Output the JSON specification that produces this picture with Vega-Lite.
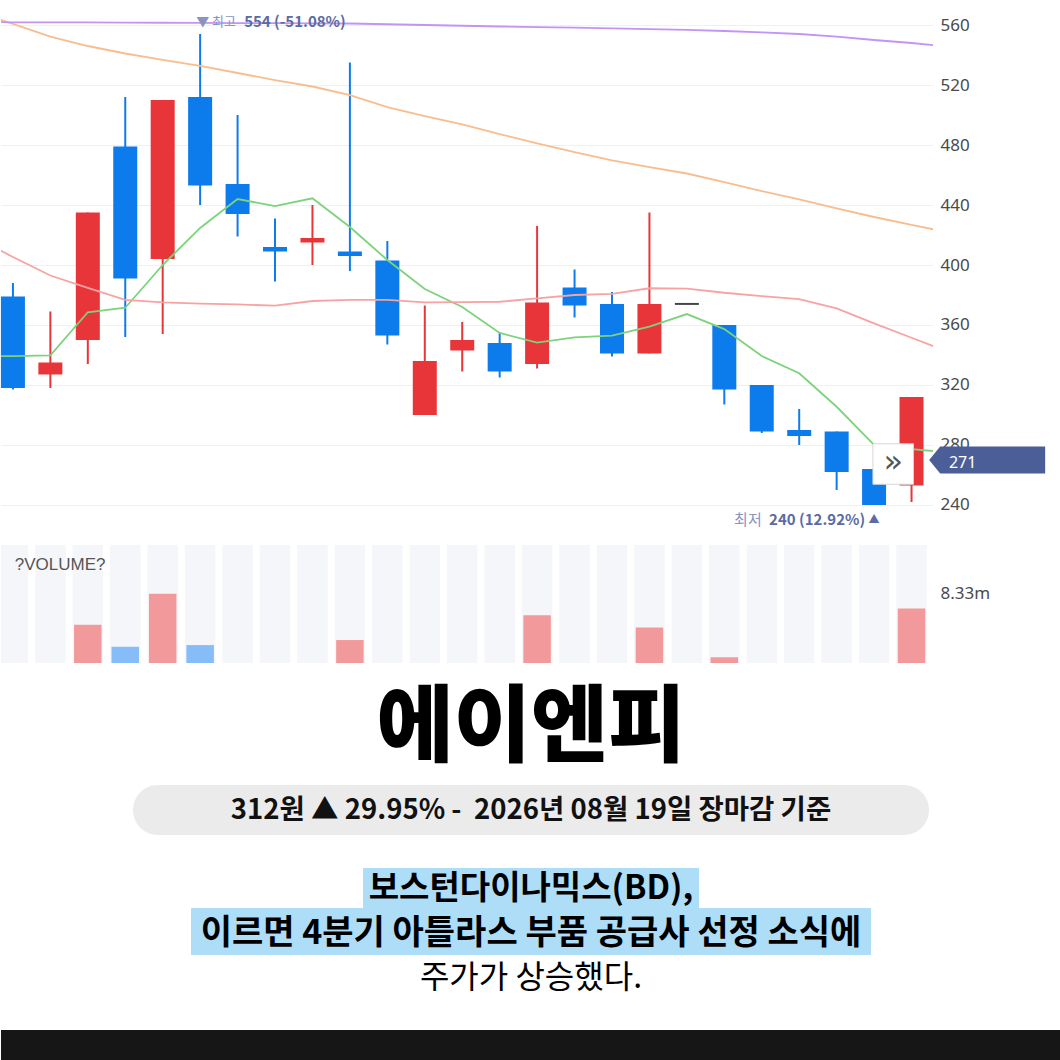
{
  "$schema": "https://vega.github.io/schema/vega-lite/v6.json",
  "background": "white",
  "padding": 0,
  "spacing": 0,
  "bounds": "flush",
  "config": {"view": {"stroke": null}, "font": "Noto Sans CJK KR"},
  "datasets": {
    "candles": [
      {"i": 0, "o": 379, "c": 318, "h": 388, "l": 317, "d": "down"},
      {"i": 1, "o": 327, "c": 335, "h": 369, "l": 318, "d": "up"},
      {"i": 2, "o": 350, "c": 435, "h": 435, "l": 334, "d": "up"},
      {"i": 3, "o": 479, "c": 391, "h": 512, "l": 352, "d": "down"},
      {"i": 4, "o": 404, "c": 510, "h": 510, "l": 354, "d": "up"},
      {"i": 5, "o": 512, "c": 453, "h": 554, "l": 440, "d": "down"},
      {"i": 6, "o": 454, "c": 434, "h": 500, "l": 419, "d": "down"},
      {"i": 7, "o": 412, "c": 409, "h": 431, "l": 389, "d": "down"},
      {"i": 8, "o": 415, "c": 418, "h": 440, "l": 400, "d": "up"},
      {"i": 9, "o": 409, "c": 406, "h": 535, "l": 396, "d": "down"},
      {"i": 10, "o": 403, "c": 353, "h": 416, "l": 347, "d": "down"},
      {"i": 11, "o": 300, "c": 336, "h": 373, "l": 300, "d": "up"},
      {"i": 12, "o": 343, "c": 350, "h": 362, "l": 329, "d": "up"},
      {"i": 13, "o": 348, "c": 329, "h": 355, "l": 325, "d": "down"},
      {"i": 14, "o": 334, "c": 375, "h": 426, "l": 331, "d": "up"},
      {"i": 15, "o": 385, "c": 373, "h": 397, "l": 365, "d": "down"},
      {"i": 16, "o": 374, "c": 341, "h": 382, "l": 339, "d": "down"},
      {"i": 17, "o": 341, "c": 374, "h": 435, "l": 341, "d": "up"},
      {"i": 18, "o": 374.7, "c": 373.4, "h": 374, "l": 374, "d": "flat"},
      {"i": 19, "o": 360, "c": 317, "h": 360, "l": 307, "d": "down"},
      {"i": 20, "o": 320, "c": 289, "h": 320, "l": 288, "d": "down"},
      {"i": 21, "o": 290, "c": 286, "h": 304, "l": 280, "d": "down"},
      {"i": 22, "o": 289, "c": 262, "h": 289, "l": 250, "d": "down"},
      {"i": 23, "o": 264, "c": 240, "h": 264, "l": 240, "d": "down"},
      {"i": 24, "o": 253, "c": 312, "h": 312, "l": 242, "d": "up"}
    ],
    "vol": [
      {"i": 2, "v": 4.6, "d": "up"},
      {"i": 3, "v": 1.95, "d": "down"},
      {"i": 4, "v": 8.33, "d": "up"},
      {"i": 5, "v": 2.15, "d": "down"},
      {"i": 9, "v": 2.76, "d": "up"},
      {"i": 14, "v": 5.73, "d": "up"},
      {"i": 17, "v": 4.27, "d": "up"},
      {"i": 19, "v": 0.69, "d": "up"},
      {"i": 24, "v": 6.54, "d": "up"}
    ],
    "ma": [
      {"i": -1, "s": "ma5", "v": 339}, {"i": 0, "s": "ma5", "v": 339.3}, {"i": 1, "s": "ma5", "v": 339.8}, {"i": 2, "s": "ma5", "v": 368.5}, {"i": 3, "s": "ma5", "v": 371.5}, {"i": 4, "s": "ma5", "v": 400}, {"i": 5, "s": "ma5", "v": 424.7}, {"i": 6, "s": "ma5", "v": 444}, {"i": 7, "s": "ma5", "v": 439.3}, {"i": 8, "s": "ma5", "v": 444.5}, {"i": 9, "s": "ma5", "v": 425.3}, {"i": 10, "s": "ma5", "v": 403.3}, {"i": 11, "s": "ma5", "v": 384}, {"i": 12, "s": "ma5", "v": 372}, {"i": 13, "s": "ma5", "v": 354.7}, {"i": 14, "s": "ma5", "v": 348.3}, {"i": 15, "s": "ma5", "v": 351.8}, {"i": 16, "s": "ma5", "v": 352.9}, {"i": 17, "s": "ma5", "v": 358.9}, {"i": 18, "s": "ma5", "v": 367.3}, {"i": 19, "s": "ma5", "v": 357.3}, {"i": 20, "s": "ma5", "v": 339.3}, {"i": 21, "s": "ma5", "v": 327.8}, {"i": 22, "s": "ma5", "v": 305.5}, {"i": 23, "s": "ma5", "v": 280}, {"i": 24, "s": "ma5", "v": 277.3}, {"i": 25, "s": "ma5", "v": 275},
      {"i": -1, "s": "ma20", "v": 418.3}, {"i": 0, "s": "ma20", "v": 405.3}, {"i": 1, "s": "ma20", "v": 393}, {"i": 2, "s": "ma20", "v": 384.8}, {"i": 3, "s": "ma20", "v": 376.7}, {"i": 4, "s": "ma20", "v": 375.1}, {"i": 5, "s": "ma20", "v": 374.3}, {"i": 6, "s": "ma20", "v": 373.7}, {"i": 7, "s": "ma20", "v": 372.9}, {"i": 8, "s": "ma20", "v": 376}, {"i": 9, "s": "ma20", "v": 376.7}, {"i": 10, "s": "ma20", "v": 376.7}, {"i": 11, "s": "ma20", "v": 375.1}, {"i": 12, "s": "ma20", "v": 375.3}, {"i": 13, "s": "ma20", "v": 375.5}, {"i": 14, "s": "ma20", "v": 377.8}, {"i": 15, "s": "ma20", "v": 380}, {"i": 16, "s": "ma20", "v": 380.7}, {"i": 17, "s": "ma20", "v": 384.5}, {"i": 18, "s": "ma20", "v": 384.3}, {"i": 19, "s": "ma20", "v": 381.5}, {"i": 20, "s": "ma20", "v": 379.3}, {"i": 21, "s": "ma20", "v": 377.3}, {"i": 22, "s": "ma20", "v": 371.1}, {"i": 23, "s": "ma20", "v": 361.1}, {"i": 24, "s": "ma20", "v": 351.5}, {"i": 25, "s": "ma20", "v": 342},
      {"i": -1, "s": "ma60", "v": 569}, {"i": 0, "s": "ma60", "v": 560.7}, {"i": 1, "s": "ma60", "v": 552.3}, {"i": 2, "s": "ma60", "v": 546}, {"i": 3, "s": "ma60", "v": 541}, {"i": 4, "s": "ma60", "v": 536.7}, {"i": 5, "s": "ma60", "v": 532.7}, {"i": 6, "s": "ma60", "v": 528}, {"i": 7, "s": "ma60", "v": 523.3}, {"i": 8, "s": "ma60", "v": 519}, {"i": 9, "s": "ma60", "v": 513.3}, {"i": 10, "s": "ma60", "v": 505.3}, {"i": 11, "s": "ma60", "v": 499.3}, {"i": 12, "s": "ma60", "v": 493.7}, {"i": 13, "s": "ma60", "v": 487.3}, {"i": 14, "s": "ma60", "v": 481.1}, {"i": 15, "s": "ma60", "v": 475.3}, {"i": 16, "s": "ma60", "v": 469.7}, {"i": 17, "s": "ma60", "v": 465.3}, {"i": 18, "s": "ma60", "v": 461}, {"i": 19, "s": "ma60", "v": 455.3}, {"i": 20, "s": "ma60", "v": 449.3}, {"i": 21, "s": "ma60", "v": 443.7}, {"i": 22, "s": "ma60", "v": 437.7}, {"i": 23, "s": "ma60", "v": 432}, {"i": 24, "s": "ma60", "v": 426.7}, {"i": 25, "s": "ma60", "v": 421.7},
      {"i": -1, "s": "ma120", "v": 562}, {"i": 0, "s": "ma120", "v": 561.8}, {"i": 1, "s": "ma120", "v": 561.8}, {"i": 2, "s": "ma120", "v": 561.7}, {"i": 3, "s": "ma120", "v": 561.6}, {"i": 4, "s": "ma120", "v": 561.5}, {"i": 5, "s": "ma120", "v": 561.4}, {"i": 6, "s": "ma120", "v": 561.3}, {"i": 7, "s": "ma120", "v": 561.2}, {"i": 8, "s": "ma120", "v": 561.1}, {"i": 9, "s": "ma120", "v": 561}, {"i": 10, "s": "ma120", "v": 560.5}, {"i": 11, "s": "ma120", "v": 560}, {"i": 12, "s": "ma120", "v": 559.5}, {"i": 13, "s": "ma120", "v": 559}, {"i": 14, "s": "ma120", "v": 558.6}, {"i": 15, "s": "ma120", "v": 558.2}, {"i": 16, "s": "ma120", "v": 557.7}, {"i": 17, "s": "ma120", "v": 557.2}, {"i": 18, "s": "ma120", "v": 556.7}, {"i": 19, "s": "ma120", "v": 556}, {"i": 20, "s": "ma120", "v": 555.1}, {"i": 21, "s": "ma120", "v": 554}, {"i": 22, "s": "ma120", "v": 552.2}, {"i": 23, "s": "ma120", "v": 550}, {"i": 24, "s": "ma120", "v": 548}, {"i": 25, "s": "ma120", "v": 545.5}
    ]
  },
  "vconcat": [
    {
      "width": 932,
      "height": 530,
      "layer": [
        {
          "data": {"name": "candles"},
          "mark": {"type": "rule", "strokeWidth": 2},
          "encoding": {
            "x": {"field": "i", "type": "quantitative", "scale": {"domain": [-0.185, 24.44], "nice": false, "zero": false}, "axis": null},
            "y": {"field": "l", "type": "quantitative", "title": null,
              "scale": {"domain": [223.33, 576.67], "nice": false, "zero": false},
              "axis": {"orient": "right", "values": [240, 280, 320, 360, 400, 440, 480, 520, 560], "grid": true, "gridColor": "#EEF0F4", "gridWidth": 1, "domain": false, "ticks": false, "labelPadding": 7, "labelFont": "Noto Sans", "labelFontSize": 17, "labelColor": "#4A4A4A"}},
            "y2": {"field": "h"},
            "color": {"field": "d", "type": "nominal", "legend": null, "scale": {"domain": ["up", "down", "flat"], "range": ["#E8353A", "#0C7BEB", "#444444"]}}
          }
        },
        {
          "data": {"name": "candles"},
          "mark": {"type": "bar", "width": 24},
          "encoding": {
            "x": {"field": "i", "type": "quantitative"},
            "y": {"field": "o", "type": "quantitative", "title": null},
            "y2": {"field": "c"},
            "color": {"field": "d", "type": "nominal", "legend": null}
          }
        },
        {
          "data": {"name": "ma"},
          "mark": {"type": "line", "strokeWidth": 1.8, "clip": true},
          "encoding": {
            "x": {"field": "i", "type": "quantitative"},
            "y": {"field": "v", "type": "quantitative", "title": null},
            "stroke": {"field": "s", "type": "nominal", "legend": null, "scale": {"domain": ["ma5", "ma20", "ma60", "ma120"], "range": ["#7CD37C", "#F8A3A3", "#F8BD8E", "#C493F7"]}}
          }
        },
        {
          "data": {"values": [{"t": "▼ 최고"}]},
          "mark": {"type": "text", "align": "left", "baseline": "middle", "dx": -4, "dy": -12, "fontSize": 13, "color": "#8A94BD"},
          "encoding": {"x": {"datum": 5, "type": "quantitative"}, "y": {"datum": 554, "type": "quantitative", "title": null}, "text": {"field": "t"}}
        },
        {
          "data": {"values": [{"t": "554 (-51.08%)"}]},
          "mark": {"type": "text", "align": "left", "baseline": "middle", "dx": 44, "dy": -12, "fontSize": 15, "fontWeight": "bold", "color": "#5B6BA3"},
          "encoding": {"x": {"datum": 5, "type": "quantitative"}, "y": {"datum": 554, "type": "quantitative", "title": null}, "text": {"field": "t"}}
        },
        {
          "data": {"values": [{"t": "최저"}]},
          "mark": {"type": "text", "align": "left", "baseline": "middle", "dx": -140, "dy": 15, "fontSize": 15, "color": "#8A94BD"},
          "encoding": {"x": {"datum": 23, "type": "quantitative"}, "y": {"datum": 240, "type": "quantitative", "title": null}, "text": {"field": "t"}}
        },
        {
          "data": {"values": [{"t": "240 (12.92%)"}]},
          "mark": {"type": "text", "align": "left", "baseline": "middle", "dx": -105, "dy": 15, "fontSize": 15, "fontWeight": "bold", "color": "#5B6BA3"},
          "encoding": {"x": {"datum": 23, "type": "quantitative"}, "y": {"datum": 240, "type": "quantitative", "title": null}, "text": {"field": "t"}}
        },
        {
          "data": {"values": [{"t": "▲"}]},
          "mark": {"type": "text", "align": "center", "baseline": "middle", "dy": 15, "fontSize": 11, "color": "#5B6BA3"},
          "encoding": {"x": {"datum": 23, "type": "quantitative"}, "y": {"datum": 240, "type": "quantitative", "title": null}, "text": {"field": "t"}}
        },
        {
          "data": {"values": [{"t": "»"}]},
          "mark": {"type": "point", "shape": "square", "size": 1640, "filled": true, "fill": "white", "stroke": "#D6D6D6", "strokeWidth": 1, "opacity": 1},
          "encoding": {"x": {"datum": 23.51, "type": "quantitative"}, "y": {"datum": 267.3, "type": "quantitative", "title": null}}
        },
        {
          "data": {"values": [{"t": "»"}]},
          "mark": {"type": "text", "align": "center", "baseline": "middle", "dy": -2, "fontSize": 32, "font": "DejaVu Sans", "color": "#555555"},
          "encoding": {"x": {"datum": 23.51, "type": "quantitative"}, "y": {"datum": 267.3, "type": "quantitative", "title": null}, "text": {"field": "t"}}
        },
        {
          "data": {"values": [{"t": "271"}]},
          "mark": {"type": "point", "shape": "M -1 0 L -0.81 -0.233 L 1 -0.233 L 1 0.233 L -0.81 0.233 Z", "size": 13456, "filled": true, "color": "#4B5E97", "opacity": 1},
          "encoding": {"x": {"datum": 26.02, "type": "quantitative"}, "y": {"datum": 270, "type": "quantitative", "title": null}}
        },
        {
          "data": {"values": [{"t": "271"}]},
          "mark": {"type": "text", "align": "left", "baseline": "middle", "dy": 3, "fontSize": 16, "font": "Noto Sans", "color": "white"},
          "encoding": {"x": {"datum": 25, "type": "quantitative"}, "y": {"datum": 270, "type": "quantitative", "title": null}, "text": {"field": "t"}}
        }
      ]
    },
    {
      "width": 1060, "height": 15,
      "data": {"values": [{"t": ""}]},
      "mark": {"type": "text"},
      "encoding": {"text": {"field": "t"}}
    },
    {
      "width": 932,
      "height": 118,
      "layer": [
        {
          "data": {"name": "candles"},
          "mark": {"type": "rule", "strokeWidth": 30.5, "color": "#F5F6FA", "clip": true},
          "encoding": {"x": {"field": "i", "type": "quantitative", "scale": {"domain": [-0.185, 24.44], "nice": false, "zero": false}, "axis": null}}
        },
        {
          "data": {"name": "vol"},
          "mark": {"type": "bar", "width": 27.5},
          "encoding": {
            "x": {"field": "i", "type": "quantitative"},
            "y": {"field": "v", "type": "quantitative", "title": null,
              "scale": {"domain": [0, 14.18], "nice": false},
              "axis": {"orient": "right", "values": [8.33], "labelExpr": "'8.33m'", "grid": false, "domain": false, "ticks": false, "labelPadding": 7, "labelFont": "Noto Sans", "labelFontSize": 17, "labelColor": "#4A4A4A"}},
            "fill": {"field": "d", "type": "nominal", "legend": null, "scale": {"domain": ["up", "down"], "range": ["#F29A9B", "#86BCF7"]}}
          }
        },
        {
          "data": {"values": [{"t": "?VOLUME?"}]},
          "mark": {"type": "text", "align": "left", "baseline": "middle", "dx": -3, "fontSize": 17, "font": "Liberation Sans", "color": "#555555"},
          "encoding": {"x": {"datum": 0.13, "type": "quantitative"}, "y": {"datum": 11.8, "type": "quantitative", "title": null}, "text": {"field": "t"}}
        }
      ]
    },
    {
      "spacing": 0,
      "center": true,
      "bounds": "flush",
      "vconcat": [
        {
          "width": 1060, "height": 122,
          "data": {"values": [{"t": "에이엔피"}]},
          "mark": {"type": "text", "fontSize": 84, "fontWeight": 900, "font": "Noto Sans CJK KR", "color": "#000000", "baseline": "middle", "dy": 6},
          "encoding": {"text": {"field": "t"}}
        },
        {
          "width": 796, "height": 50,
          "view": {"fill": "#EBEBEB", "cornerRadius": 25, "stroke": null},
          "data": {"values": [{"t": "312원 ▲ 29.95% - \u00a02026년 08월 19일 장마감 기준"}]},
          "mark": {"type": "text", "fontSize": 27.5, "fontWeight": "bold", "font": "Noto Sans CJK KR", "color": "#111111", "baseline": "middle", "dy": 1},
          "encoding": {"text": {"field": "t"}}
        },
        {
          "width": 1060, "height": 33,
          "data": {"values": [{"t": ""}]},
          "mark": {"type": "text"},
          "encoding": {"text": {"field": "t"}}
        },
        {
          "width": 336, "height": 40,
          "view": {"fill": "#AEDDF7", "stroke": null},
          "data": {"values": [{"t": "보스턴다이나믹스(BD),"}]},
          "mark": {"type": "text", "fontSize": 33, "fontWeight": "bold", "font": "Noto Sans CJK KR", "color": "#000000", "baseline": "middle", "dy": 1},
          "encoding": {"text": {"field": "t"}}
        },
        {
          "width": 680, "height": 47,
          "view": {"fill": "#AEDDF7", "stroke": null},
          "data": {"values": [{"t": "이르면 4분기 아틀라스 부품 공급사 선정 소식에"}]},
          "mark": {"type": "text", "fontSize": 34, "fontWeight": "bold", "font": "Noto Sans CJK KR", "color": "#000000", "baseline": "middle", "dy": 2},
          "encoding": {"text": {"field": "t"}}
        },
        {
          "width": 1060, "height": 38,
          "data": {"values": [{"t": "주가가 상승했다."}]},
          "mark": {"type": "text", "fontSize": 32, "fontWeight": "normal", "font": "Noto Sans CJK KR", "color": "#000000", "baseline": "middle", "dy": 4},
          "encoding": {"text": {"field": "t"}}
        },
        {
          "width": 1060, "height": 37,
          "data": {"values": [{"t": ""}]},
          "mark": {"type": "text"},
          "encoding": {"text": {"field": "t"}}
        },
        {
          "width": 1060, "height": 30,
          "view": {"fill": "#161616", "stroke": null},
          "data": {"values": [{"t": ""}]},
          "mark": {"type": "text"},
          "encoding": {"text": {"field": "t"}}
        }
      ]
    }
  ]
}
